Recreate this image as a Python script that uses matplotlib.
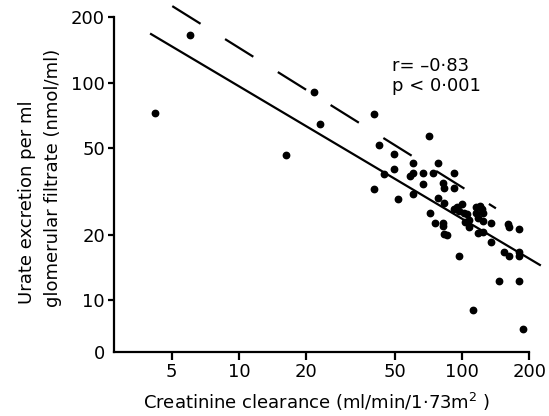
import matplotlib
matplotlib.use("Agg")
import matplotlib.pyplot as plt
import numpy as np

plt.rcParams['font.family'] = ['DejaVu Sans']
plt.rcParams['mathtext.fontset'] = 'dejavusans'

# Data: creatinine clearance (ml/min/1.73m2) vs urate excretion per ml GF (nmol/ml)
clearance = [4.22, 6.03, 16.3, 21.8, 23.0, 40.2, 42.3, 70.8, 49.3, 60.5,
             78.0, 49.3, 44.7, 58.7, 60.4, 67.0, 74.0, 91.5, 67.0, 82.3,
             82.9, 91.5, 40.2, 60.4, 51.8, 78.0, 83.1, 71.6, 75.3, 81.8,
             82.3, 82.9, 85.4, 91.5, 94.8, 100.0, 96.5, 101.7, 105.0, 106.8,
             103.4, 106.8, 115.8, 119.7, 122.7, 123.6, 115.8, 117.7, 123.6, 117.7,
             123.6, 134.3, 134.3, 96.5, 153.9, 162.4, 179.1, 179.1, 160.8, 161.6,
             179.1, 146.9, 179.1, 111.3, 188.0]
urate = [72.1, 166.0, 46.5, 90.5, 64.8, 71.8, 51.7, 56.9, 46.9, 42.7,
         42.7, 40.2, 38.0, 37.2, 38.3, 38.2, 38.2, 38.2, 34.2, 34.4,
         32.7, 32.7, 32.5, 30.7, 29.2, 29.5, 27.9, 25.2, 22.5, 22.7,
         21.9, 20.2, 19.9, 26.2, 26.7, 27.7, 25.7, 25.2, 24.8, 23.4,
         22.8, 21.6, 26.7, 27.2, 26.2, 25.2, 25.2, 23.9, 23.0, 20.3,
         20.6, 22.7, 18.4, 15.9, 16.6, 15.9, 16.6, 15.9, 22.4, 21.6,
         21.3, 12.2, 12.2, 9.0, 7.35]

# Regression line (solid) and reference line (dashed), endpoints
fit_x = [4.04, 223.0]
fit_y = [167.0, 14.5]
ref_x = [5.03, 141.7]
ref_y = [224.5, 26.4]

x_ticks = [5, 10, 20, 50, 100, 200]
x_ticklabels = ['5', '10', '20', '50', '100', '200']
y_zero = 5.77
y_ticks = [y_zero, 10, 20, 50, 100, 200]
y_ticklabels = ['0', '10', '20', '50', '100', '200']

FS = 13

fig = plt.figure(figsize=(5.49, 4.16), dpi=100)
ax = fig.add_axes([114/549, 1-352/416, (547-114)/549, (352-2)/416])
ax.set_xscale('log')
ax.set_yscale('log')
ax.set_xlim(2.757, 240.0)
ax.set_ylim(y_zero, 234.5)

ax.plot(clearance, urate, 'o', color='black', ms=4.6, mec='black', zorder=3)
ax.plot(fit_x, fit_y, '-', color='black', lw=1.6, clip_on=False)
ax.plot(ref_x, ref_y, color='black', lw=1.6, linestyle=(0, (15, 13)), clip_on=False)

ax.spines['top'].set_visible(False)
ax.spines['right'].set_visible(False)
ax.spines['left'].set_linewidth(1.6)
ax.spines['bottom'].set_linewidth(1.6)
ax.spines['left'].set_bounds(y_zero, 200)
ax.spines['bottom'].set_bounds(2.757, 200)

ax.minorticks_off()
ax.set_xticks(x_ticks)
ax.set_xticklabels(x_ticklabels)
ax.set_yticks(y_ticks)
ax.set_yticklabels(y_ticklabels)
ax.tick_params(axis='both', which='minor', length=0)
ax.tick_params(axis='x', direction='out', length=6, width=1.6, labelsize=FS, pad=2)
ax.tick_params(axis='y', direction='out', length=4.5, width=1.6, labelsize=FS, pad=2)
ax.yaxis.get_major_ticks()[0].tick1line.set_visible(False)

ax.text((392-114)/433, 1-(66-2)/350, 'r= –0·83', transform=ax.transAxes, fontsize=FS,
        ha='left', va='center')
ax.text((392-114)/433, 1-(86-2)/350, 'p < 0·001', transform=ax.transAxes, fontsize=FS,
        ha='left', va='center')

fig.text(316.5/549, 1-401.5/416, r'Creatinine clearance (ml/min/1·73m$^{2}$ )',
         fontsize=FS, ha='center', va='center')
fig.text(27/549, 1-202/416, 'Urate excretion per ml', fontsize=FS,
         rotation=90, ha='center', va='center')
fig.text(53/549, 1-178/416, 'glomerular filtrate (nmol/ml)', fontsize=FS,
         rotation=90, ha='center', va='center')

fig.savefig('out.png', dpi=100)
